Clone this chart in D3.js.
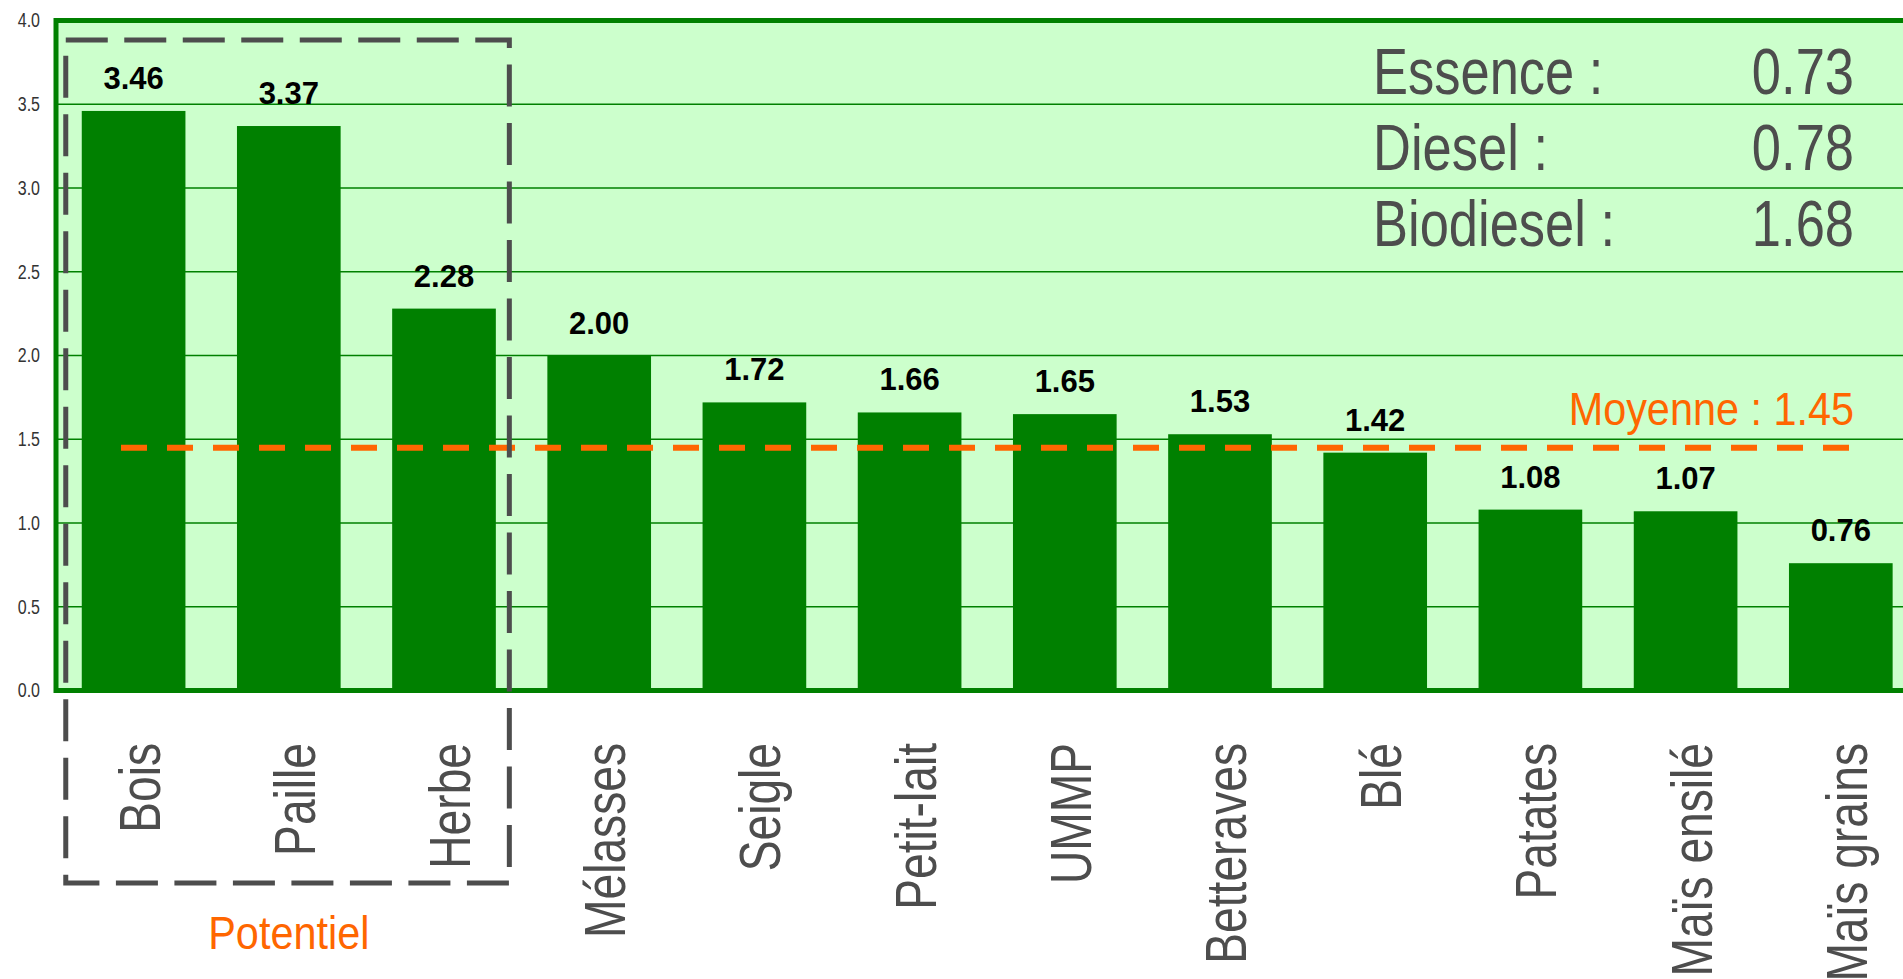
<!DOCTYPE html>
<html>
<head>
<meta charset="utf-8">
<script src="https://cdn.jsdelivr.net/npm/d3@7"></script>
<style>
  html, body { margin: 0; padding: 0; background: white; overflow: hidden; }
  #container { width: 1903px; height: 979px; }
</style>
</head>
<body>
<div id="container"></div>
<script>
// data
let categories = ['Bois', 'Paille', 'Herbe', 'Mélasses', 'Seigle', 'Petit-lait', 'UMMP',
                  'Betteraves', 'Blé', 'Patates', 'Maïs ensilé', 'Maïs grains'];
let values = [3.46, 3.37, 2.28, 2.00, 1.72, 1.66, 1.65, 1.53, 1.42, 1.08, 1.07, 0.76];
let yTicks = [0, 0.5, 1, 1.5, 2, 2.5, 3, 3.5, 4];
let potentiel = ['Bois', 'Paille', 'Herbe'];
let moyenne = 1.45;
let fuels = ['Essence', 'Diesel', 'Biodiesel'];
let fuelValues = [0.73, 0.78, 1.68];

let w = 1903,
    h = 979;

let green = '#008000',
    lightGreen = '#CCFFCC',
    orange = '#FF6600',
    grey = '#4D4D4D',
    font = "'Liberation Sans', Arial, sans-serif";

let viz = d3.select('#container')
  .append('svg')
    .attr('width', w)
    .attr('height', h)
    .style('background', 'white');

let plotLeft = 56, plotTop = 20.5, plotBottom = 690.5;

let x = d3.scaleBand()
    .domain(categories)
    .range([plotLeft, plotLeft + 12 * 155.2])
    .paddingInner(0.332)
    .paddingOuter(0.166);

let y = d3.scaleLinear()
    .domain([0, 4])
    .range([plotBottom, plotTop]);

function main() {
    // plot background
    viz.append('rect')
        .attr('x', plotLeft)
        .attr('y', y(4))
        .attr('width', w - plotLeft)
        .attr('height', y(0) - y(4))
        .attr('fill', lightGreen);

    // grid
    viz.append('g').selectAll('line')
      .data(yTicks.filter(d => d > 0 && d < 4))
      .enter().append('line')
        .attr('x1', plotLeft)
        .attr('x2', w)
        .attr('y1', d => y(d))
        .attr('y2', d => y(d))
        .attr('stroke', green)
        .attr('stroke-width', 1.6);

    // bars
    viz.append('g').selectAll('rect')
      .data(values)
      .enter().append('rect')
        .attr('x', (d, i) => x(categories[i]))
        .attr('y', d => y(d))
        .attr('width', x.bandwidth())
        .attr('height', d => y(0) - y(d))
        .attr('fill', green);

    // value labels
    viz.append('g').selectAll('text')
      .data(values)
      .enter().append('text')
        .attr('x', (d, i) => x(categories[i]) + x.bandwidth() / 2)
        .attr('y', d => y(d) - 22)
        .attr('text-anchor', 'middle')
        .attr('font-family', font)
        .attr('font-weight', 'bold')
        .attr('font-size', 31)
        .attr('fill', 'black')
        .text(d => d3.format('.2f')(d));

    // frame: top, left, bottom
    viz.append('path')
        .attr('d', 'M' + w + ',' + y(4) + 'H' + plotLeft + 'V' + y(0) + 'H' + w)
        .attr('fill', 'none')
        .attr('stroke', green)
        .attr('stroke-width', 5);

    // y axis
    let yAxis = viz.append('g')
        .attr('transform', 'translate(40,0)')
        .call(d3.axisLeft(y).tickValues(yTicks).tickSize(0).tickPadding(0).tickFormat(d3.format('.1f')));
    yAxis.select('.domain').remove();
    yAxis.selectAll('text')
        .attr('font-family', font)
        .attr('font-size', 20)
        .attr('fill', '#333')
        .attr('transform', 'scale(0.8,1)');

    // x labels, rotated
    viz.append('g').selectAll('text')
      .data(categories)
      .enter().append('text')
        .attr('transform', d => 'translate(' + (x(d) + x.bandwidth() / 2 + 26) + ',743) rotate(-90) scale(0.81,1)')
        .attr('text-anchor', 'end')
        .attr('font-family', font)
        .attr('font-size', 57)
        .attr('fill', grey)
        .text(d => d);

    // average line
    viz.append('line')
        .attr('x1', 121)
        .attr('x2', 1852)
        .attr('y1', y(moyenne))
        .attr('y2', y(moyenne))
        .attr('stroke', orange)
        .attr('stroke-width', 6)
        .attr('stroke-dasharray', '26,20');

    viz.append('text')
        .attr('transform', 'translate(1854,' + (y(moyenne) - 23) + ') scale(0.9,1)')
        .attr('text-anchor', 'end')
        .attr('font-family', font)
        .attr('font-size', 46)
        .attr('fill', orange)
        .text('Moyenne : ' + d3.format('.2f')(moyenne));

    // fuel reference values
    let legend = viz.append('g')
        .attr('font-family', font)
        .attr('font-size', 64)
        .attr('fill', grey);
    fuels.forEach((f, i) => {
        legend.append('text')
            .attr('transform', 'translate(1373,' + (94 + i * 76) + ') scale(0.82,1)')
            .text(f + ' :');
        legend.append('text')
            .attr('transform', 'translate(1854,' + (94 + i * 76) + ') scale(0.82,1)')
            .attr('text-anchor', 'end')
            .text(d3.format('.2f')(fuelValues[i]));
    });

    // "Potentiel" dashed box
    let bx0 = x(potentiel[0]) - 16,
        bx1 = x(potentiel[potentiel.length - 1]) + x.bandwidth() + 13.5;
    viz.append('rect')
        .attr('x', bx0)
        .attr('y', 40)
        .attr('width', bx1 - bx0)
        .attr('height', 883 - 40)
        .attr('fill', 'none')
        .attr('stroke', grey)
        .attr('stroke-width', 5)
        .attr('stroke-dasharray', '42,16.5');

    viz.append('text')
        .attr('transform', 'translate(' + (x(potentiel[1]) + x.bandwidth() / 2) + ',949) scale(0.9,1)')
        .attr('text-anchor', 'middle')
        .attr('font-family', font)
        .attr('font-size', 46)
        .attr('fill', orange)
        .text('Potentiel');
}

main();
</script>
</body>
</html>
